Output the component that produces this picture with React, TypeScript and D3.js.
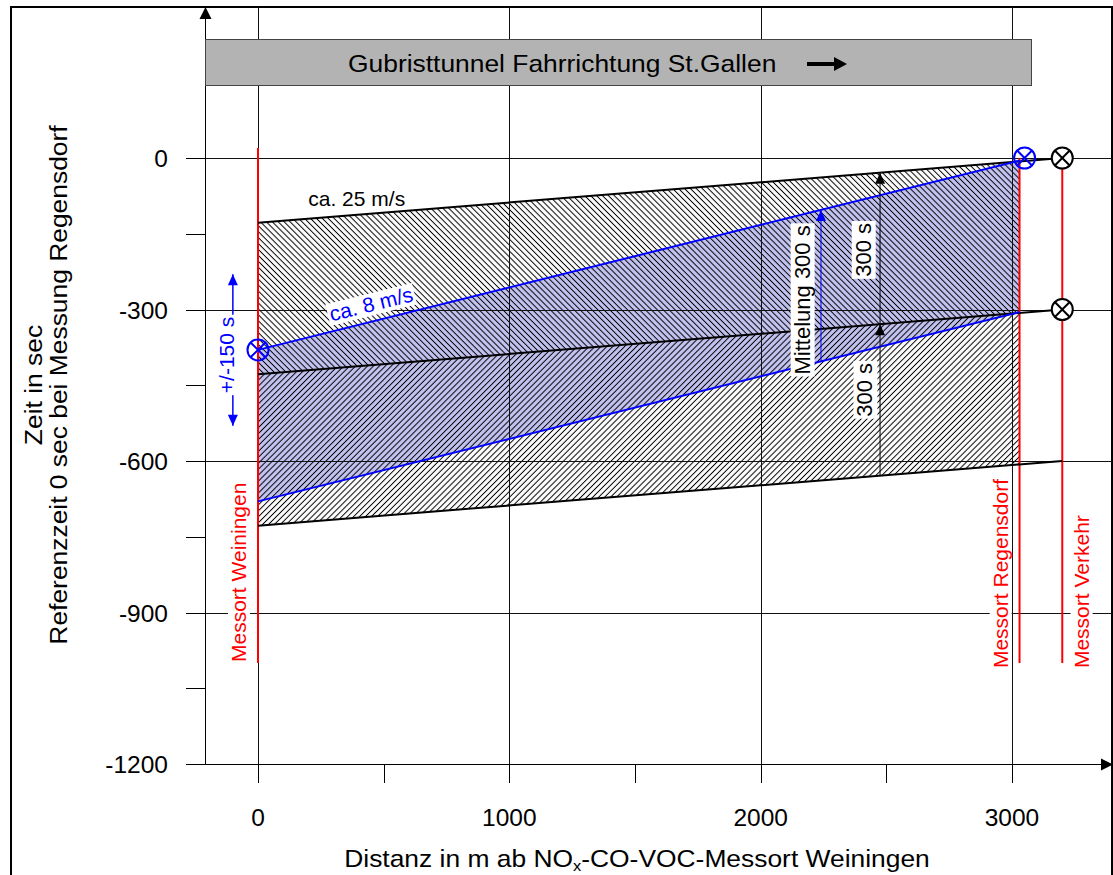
import React, { useEffect, useRef } from "react";
import * as d3 from "d3";

const W = 1113;
const H = 875;
const FONT = "'Liberation Sans', Arial, Helvetica, sans-serif";

// Distance axis (m) and time axis (s)
const xMajorTicks = [0, 1000, 2000, 3000];
const xMinorTicks = [0, 500, 1000, 1500, 2000, 2500, 3000];
const yMajorTicks = [0, -300, -600, -900, -1200];
const yMinorTicks = [0, -150, -300, -450, -600, -750, -900, -1050, -1200];

// Measuring stations: distance from Weiningen, top / bottom of the marker line (s)
const stationNames = ["Messort Weiningen", "Messort Regensdorf", "Messort Verkehr"];
const stationDist = [0, 3030, 3200];
const stationTop = [20, 0, 0];
const stationBottom = -1000;
const stationLabelDist = [-78, 2953, 3275];
const stationLabelTime = [-998, -1010, -1010];

// Travel lines at ca. 25 m/s: [start, end] as [distance, time]
const fastLines: [number, number][][] = [
  [[0, -128], [3200, 0]],
  [[0, -428], [3200, -300]],
  [[0, -728], [3200, -600]],
];
// Travel lines at ca. 8 m/s
const slowLines: [number, number][][] = [
  [[0, -380], [3030, -5]],
  [[0, -680], [3030, -305]],
];
const bandEnd = 3030;

// Reference points (circled crosses)
const blackMarks: [number, number][] = [[3200, 0], [3200, -300]];
const blueMarks: [number, number][] = [[0, -380], [3050, 0]];

// Annotation arrows
const spreadArrow = { dist: -100, from: -230, to: -530 }; // +/-150 s
const meanArrowDist = 2240; // Mittelung 300 s
const windowArrowDist = 2475; // 300 s

export default function App() {
  const ref = useRef<SVGSVGElement>(null);

  useEffect(() => {
    const svg = d3.select(ref.current);
    svg.selectAll("*").remove();

    const x = d3.scaleLinear().domain([0, 3000]).range([258, 1012]);
    const y = d3.scaleLinear().domain([0, -1200]).range([158, 764]);

    const lineT = (ln: [number, number][], d: number) =>
      ln[0][1] + ((ln[1][1] - ln[0][1]) * (d - ln[0][0])) / (ln[1][0] - ln[0][0]);
    const toPx = (pts: [number, number][]) => pts.map(([d, t]) => [x(d), y(t)] as [number, number]);
    const path = d3.line();

    const defs = svg.append("defs");
    const hatch = (id: string, angle: number) => {
      const p = defs
        .append("pattern")
        .attr("id", id)
        .attr("patternUnits", "userSpaceOnUse")
        .attr("width", 4.2)
        .attr("height", 10)
        .attr("patternTransform", `rotate(${angle})`);
      p.append("line")
        .attr("x1", 2.1).attr("y1", 0).attr("x2", 2.1).attr("y2", 10)
        .attr("stroke", "#000").attr("stroke-width", 1);
    };
    hatch("hatchBack", -45);
    hatch("hatchFwd", 45);

    // page frame
    svg.append("rect").attr("width", W).attr("height", H).attr("fill", "#fff");
    svg.append("rect")
      .attr("x", 11).attr("y", 7).attr("width", 1101).attr("height", 900)
      .attr("fill", "none").attr("stroke", "#000").attr("stroke-width", 2);

    const band = (up: [number, number][], lo: [number, number][]): [number, number][] => [
      [0, lineT(up, 0)],
      [bandEnd, lineT(up, bandEnd)],
      [bandEnd, lineT(lo, bandEnd)],
      [0, lineT(lo, 0)],
    ];

    // 8 m/s band (blue), then hatched 25 m/s bands
    svg.append("path").attr("d", path(toPx(band(slowLines[0], slowLines[1])))! + "Z")
      .attr("fill", "#c4c4f2");
    svg.append("path").attr("d", path(toPx(band(fastLines[0], fastLines[1])))! + "Z")
      .attr("fill", "url(#hatchBack)");
    svg.append("path").attr("d", path(toPx(band(fastLines[1], fastLines[2])))! + "Z")
      .attr("fill", "url(#hatchFwd)");

    // grid
    const grid = svg.append("g").attr("stroke", "#111").attr("stroke-width", 1);
    xMajorTicks.forEach((d) => {
      const px = Math.round(x(d)) + 0.5;
      grid.append("line").attr("x1", px).attr("x2", px).attr("y1", 7).attr("y2", 783);
    });
    yMajorTicks.filter((t) => t > -1200).forEach((t) => {
      const py = Math.round(y(t)) + 0.5;
      grid.append("line").attr("x1", 186).attr("x2", 1112).attr("y1", py).attr("y2", py);
    });

    // axes
    const axis = svg.append("g").attr("stroke", "#000").attr("stroke-width", 1);
    const yAxisX = 205.5;
    const xAxisY = Math.round(y(-1200)) + 0.5;
    axis.append("line").attr("x1", yAxisX).attr("x2", yAxisX).attr("y1", xAxisY).attr("y2", 18);
    axis.append("line").attr("x1", 186).attr("x2", 1102).attr("y1", xAxisY).attr("y2", xAxisY);
    yMinorTicks.forEach((t) => {
      const py = Math.round(y(t)) + 0.5;
      axis.append("line").attr("x1", 186).attr("x2", yAxisX).attr("y1", py).attr("y2", py);
    });
    xMinorTicks.forEach((d) => {
      const px = Math.round(x(d)) + 0.5;
      axis.append("line").attr("x1", px).attr("x2", px).attr("y1", xAxisY).attr("y2", 783);
    });

    const head = (tx: number, ty: number, dx: number, dy: number, len: number, hw: number, color: string) => {
      const bx = tx - dx * len, by = ty - dy * len;
      const pts: [number, number][] = [
        [tx, ty],
        [bx - dy * hw, by + dx * hw],
        [bx + dy * hw, by - dx * hw],
      ];
      svg.append("path").attr("d", path(pts)! + "Z").attr("fill", color).attr("stroke", "none");
    };
    head(yAxisX, 7, 0, -1, 12, 6, "#000");
    head(1113, xAxisY, 1, 0, 12, 6, "#000");

    // tick labels
    yMajorTicks.forEach((t) => {
      svg.append("text").attr("x", 168).attr("y", y(t) + 9)
        .attr("text-anchor", "end").attr("font-family", FONT).attr("font-size", 24.5)
        .text(String(t));
    });
    xMajorTicks.forEach((d) => {
      svg.append("text").attr("x", x(d)).attr("y", 826)
        .attr("text-anchor", "middle").attr("font-family", FONT).attr("font-size", 24.5)
        .text(String(d));
    });

    // axis titles
    const xt = svg.append("text")
      .attr("transform", "translate(637,867) scale(1.1,1)")
      .attr("text-anchor", "middle").attr("font-family", FONT).attr("font-size", 24);
    xt.append("tspan").text("Distanz in m ab NO");
    xt.append("tspan").attr("font-size", 15).attr("dy", 4).text("x");
    xt.append("tspan").attr("dy", -4).text("-CO-VOC-Messort Weiningen");

    [["Zeit in sec", 33], ["Referenzzeit 0 sec bei Messung Regensdorf", 58]].forEach(([txt, cx]) => {
      svg.append("text")
        .attr("transform", `translate(${cx},385) rotate(-90) scale(1.1,1)`)
        .attr("text-anchor", "middle").attr("dominant-baseline", "central")
        .attr("font-family", FONT).attr("font-size", 24)
        .text(txt as string);
    });

    // tunnel banner
    svg.append("rect").attr("x", 205.5).attr("y", 39.5).attr("width", 826).attr("height", 46)
      .attr("fill", "#b3b3b3").attr("stroke", "#444").attr("stroke-width", 1);
    svg.append("text").attr("transform", "translate(348,72) scale(1.1,1)")
      .attr("font-family", FONT).attr("font-size", 24)
      .text("Gubristtunnel Fahrrichtung St.Gallen");
    svg.append("line").attr("x1", 807).attr("x2", 836).attr("y1", 64).attr("y2", 64)
      .attr("stroke", "#000").attr("stroke-width", 4);
    head(847, 64, 1, 0, 13, 7, "#000");

    // station lines
    stationDist.forEach((d, i) => {
      svg.append("line").attr("x1", x(d)).attr("x2", x(d))
        .attr("y1", y(stationTop[i])).attr("y2", y(stationBottom))
        .attr("stroke", "#ff0000").attr("stroke-width", 2);
    });

    // travel lines
    fastLines.forEach((ln) => {
      svg.append("path").attr("d", path(toPx(ln))!).attr("stroke", "#000")
        .attr("stroke-width", 2).attr("fill", "none");
    });
    slowLines.forEach((ln) => {
      svg.append("path").attr("d", path(toPx(ln))!).attr("stroke", "#0000ff")
        .attr("stroke-width", 2).attr("fill", "none");
    });

    // arrows
    const vArrow = (d: number, t0: number, t1: number, color: string, heads: number[], w = 1) => {
      svg.append("line").attr("x1", x(d)).attr("x2", x(d)).attr("y1", y(t0)).attr("y2", y(t1))
        .attr("stroke", color).attr("stroke-width", w);
      heads.forEach((t) => {
        const up = t === Math.max(t0, t1);
        head(x(d), y(t), 0, up ? -1 : 1, 11, 5, color);
      });
    };
    vArrow(spreadArrow.dist, spreadArrow.from, spreadArrow.to, "#0000ff", [spreadArrow.from, spreadArrow.to], 1.5);
    vArrow(meanArrowDist, lineT(slowLines[1], meanArrowDist), lineT(slowLines[0], meanArrowDist), "#0000ff",
      [lineT(slowLines[0], meanArrowDist)]);
    {
      const top = lineT(fastLines[0], windowArrowDist);
      const mid = lineT(fastLines[1], windowArrowDist);
      const bot = lineT(fastLines[2], windowArrowDist);
      svg.append("line").attr("x1", x(windowArrowDist)).attr("x2", x(windowArrowDist))
        .attr("y1", y(bot)).attr("y2", y(top)).attr("stroke", "#000").attr("stroke-width", 1);
      head(x(windowArrowDist), y(mid), 0, -1, 11, 5, "#000");
      head(x(windowArrowDist), y(top), 0, -1, 11, 5, "#000");
    }

    // circled crosses
    const crossMark = ([d, t]: [number, number], color: string, fill: string) => {
      const cx = x(d), cy = y(t), r = 10.5, k = r * 0.707;
      svg.append("circle").attr("cx", cx).attr("cy", cy).attr("r", r)
        .attr("fill", fill).attr("stroke", color).attr("stroke-width", 2);
      svg.append("path").attr("d", `M${cx - k},${cy - k}L${cx + k},${cy + k}M${cx - k},${cy + k}L${cx + k},${cy - k}`)
        .attr("stroke", color).attr("stroke-width", 2);
    };
    blackMarks.forEach((m) => crossMark(m, "#000", "#fff"));
    blueMarks.forEach((m) => crossMark(m, "#0000ff", "none"));

    // labels
    const label = (
      txt: string, cx: number, cy: number,
      o: { size: number; color?: string; rot?: number; anchor?: string; bg?: boolean }
    ) => {
      const g = svg.append("g").attr("transform", `translate(${cx},${cy}) rotate(${o.rot ?? 0})`);
      const rect = g.append("rect");
      const t = g.append("text").attr("font-family", FONT).attr("font-size", o.size)
        .attr("fill", o.color ?? "#000").attr("text-anchor", o.anchor ?? "middle")
        .attr("dominant-baseline", "central").text(txt);
      if (o.bg) {
        const b = (t.node() as SVGTextElement).getBBox();
        rect.attr("x", b.x - 2).attr("y", b.y + 1).attr("width", b.width + 4).attr("height", b.height - 1)
          .attr("fill", "#fff");
      } else rect.remove();
    };

    label("ca. 25 m/s", x(200), y(-80), { size: 21, anchor: "start" });
    label("ca. 8 m/s", x(450), y(-289), { size: 21, color: "#0000ff", rot: -14, bg: true });
    label("+/-150 s", x(-127), y(-390), { size: 21, color: "#0000ff", rot: -90, bg: true });
    label("Mittelung 300 s", x(2165), y(-281), { size: 22, rot: -90, bg: true });
    label("300 s", x(2408), y(-182), { size: 22, rot: -90, bg: true });
    label("300 s", x(2415), y(-459), { size: 22, rot: -90, bg: true });
    stationNames.forEach((n, i) => {
      label(n, x(stationLabelDist[i]), y(stationLabelTime[i]), {
        size: 21, color: "#ff0000", rot: -90, anchor: "start", bg: true,
      });
    });
  }, []);

  return (
    <div style={{ position: "absolute", left: 0, top: 0 }}>
      <svg ref={ref} width={W} height={H} style={{ display: "block" }} />
    </div>
  );
}
